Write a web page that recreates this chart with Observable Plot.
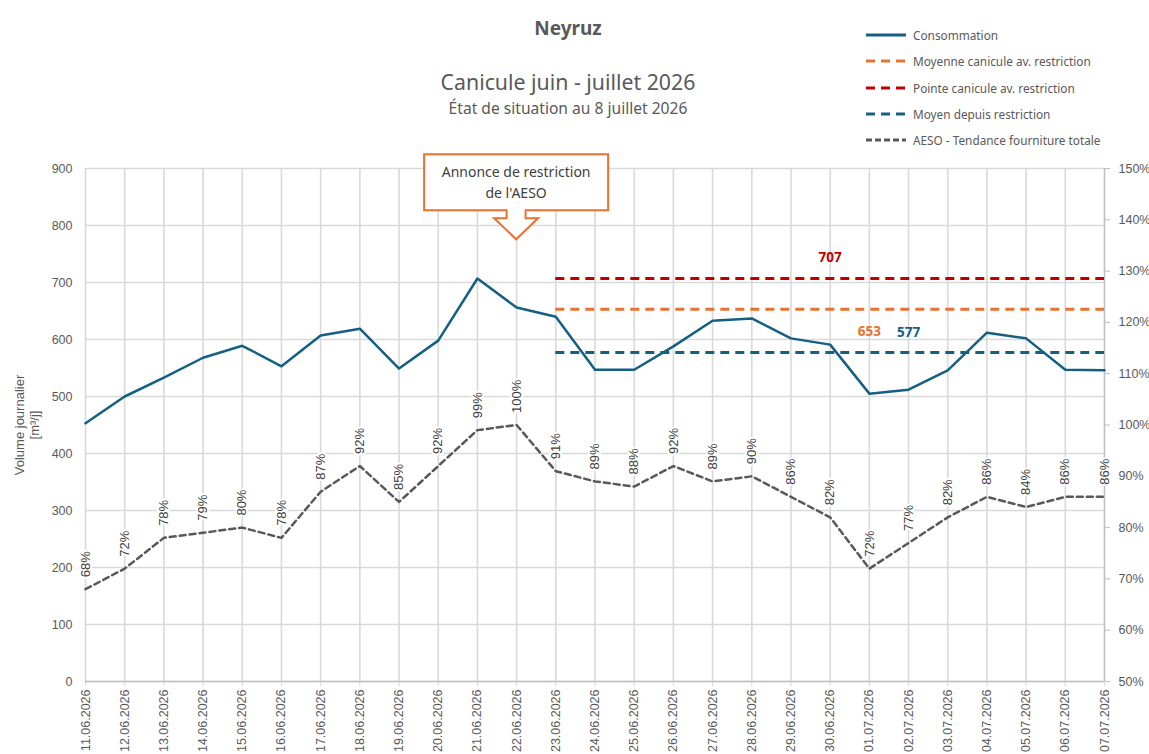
<!DOCTYPE html>
<html><head><meta charset="utf-8">
<script src="https://cdn.jsdelivr.net/npm/d3@7"></script>
<script src="https://cdn.jsdelivr.net/npm/@observablehq/plot@0.6"></script>
<style>
body{margin:0;background:#fff;font-family:"Noto Sans",sans-serif;}
#wrap{position:relative;width:1149px;height:754px;overflow:hidden;}
#wrap svg{position:absolute;left:0;top:0;}
.t{position:absolute;left:0;width:1136px;text-align:center;color:#595959;line-height:1;}
#legend{position:absolute;left:866px;top:22px;font-size:11.8px;color:#595959;}
#legend .row{height:26.3px;display:flex;align-items:center;}
#legend svg{position:static;margin-right:7px;}
</style></head><body>
<div id="wrap">
  <div class="t" style="top:19px;font-size:19px;font-weight:700;">Neyruz</div>
  <div class="t" style="top:71px;font-size:21.3px;">Canicule juin - juillet 2026</div>
  <div class="t" style="top:101px;font-size:15.6px;">État de situation au 8 juillet 2026</div>
  <div id="legend"></div>
</div>
<script>
const dates = ["11.06.2026","12.06.2026","13.06.2026","14.06.2026","15.06.2026","16.06.2026","17.06.2026","18.06.2026","19.06.2026","20.06.2026","21.06.2026","22.06.2026","23.06.2026","24.06.2026","25.06.2026","26.06.2026","27.06.2026","28.06.2026","29.06.2026","30.06.2026","01.07.2026","02.07.2026","03.07.2026","04.07.2026","05.07.2026","06.07.2026","07.07.2026"];
const consommation = [453,500,533,568,589,553,607,619,549,598,707,656,640,547,547,588,633,637,602,591,505,512,546,612,602,547,546];
const tendance = [68,72,78,79,80,78,87,92,85,92,99,100,91,89,88,92,89,90,86,82,72,77,82,86,84,86,86];
const refNames = ["Moyenne canicule av. restriction","Pointe canicule av. restriction","Moyen depuis restriction"];
const refValues = [653,707,577];
const refStart = "23.06.2026";
const leftTicks = [0,100,200,300,400,500,600,700,800,900];
const rightTicks = [50,60,70,80,90,100,110,120,130,140,150];
const seriesNames = ["Consommation","Moyenne canicule av. restriction","Pointe canicule av. restriction","Moyen depuis restriction","AESO - Tendance fourniture totale"];
const annotationDate = "22.06.2026";
const annotationValue = 775;
const annotationText = ["Annonce de restriction","de l'AESO"];

const BLUE="#156082", ORANGE="#E97132", RED="#C00000", GRAY="#595959";
const refColors=[ORANGE,RED,BLUE];
const pct2vol = p => (p-50)*9;

const rows = dates.map((d,i)=>({date:d, v:consommation[i], p:tendance[i]}));
const refs = refValues.map((v,i)=>({name:refNames[i], v, color:refColors[i]}));
const lastDate = dates[dates.length-1];

function callout(...args){
  const sc = args.find(a => a && typeof a.x === "function" && typeof a.y === "function");
  const tx = sc.x(annotationDate), ty = sc.y(annotationValue);
  const g = d3.create("svg:g");
  const bx0=tx-92, bx1=tx+92, by0=ty-85, by1=ty-29;
  g.append("path")
   .attr("d",`M${bx0},${by0}H${bx1}V${by1}H${tx+9.5}V${ty-21}H${tx+22}L${tx},${ty}L${tx-22},${ty-21}H${tx-9.5}V${by1}H${bx0}Z`)
   .attr("fill","white").attr("stroke",ORANGE).attr("stroke-width",2);
  annotationText.forEach((t,i)=>{
    g.append("text").attr("x",tx).attr("y",ty-62+i*21).attr("text-anchor","middle")
     .attr("font-family","Noto Sans").attr("font-size",14).attr("fill","#404040").text(t);
  });
  return g.node();
}

const chart = Plot.plot({
  width:1149, height:754,
  marginLeft:85, marginRight:45, marginTop:168, marginBottom:73,
  style:{fontFamily:"Liberation Sans, Arial, sans-serif", fontSize:"12.5px", color:GRAY, background:"transparent"},
  x:{type:"point", domain:dates, padding:0, round:false, axis:null},
  y:{domain:[0,900], axis:null},
  marks:[
    Plot.ruleY(leftTicks, {stroke:"#d9d9d9", strokeWidth:1.3}),
    Plot.ruleX(dates, {y1:0, y2:900, stroke:"#d9d9d9", strokeWidth:1.6}),
    Plot.axisX(dates, {anchor:"bottom", tickRotate:-90, tickSize:5, tickPadding:3, stroke:"#d9d9d9", label:null, fontSize:12.5}),
    Plot.axisY(leftTicks, {anchor:"left", tickSize:0, tickPadding:13, label:null, fontSize:12.5}),
    Plot.axisY(rightTicks.map(pct2vol), {anchor:"right", tickSize:5, tickPadding:9, stroke:"#bfbfbf", label:null, fontSize:12.5, tickFormat:(d,i)=>rightTicks[i]+"%"}),
    Plot.ruleY([0], {stroke:"#bfbfbf", strokeWidth:1.3}),
    Plot.ruleX([lastDate], {y1:0, y2:900, stroke:"#bfbfbf", strokeWidth:1.3}),
    Plot.line(rows, {x:"date", y:"v", stroke:BLUE, strokeWidth:2.5}),
    Plot.ruleY(refs, {y:"v", x1:()=>refStart, x2:()=>lastDate, stroke:"color", strokeWidth:3, strokeDasharray:"9,6"}),
    Plot.line(rows, {x:"date", y:d=>pct2vol(d.p), stroke:GRAY, strokeWidth:2.5, strokeDasharray:"6,4"}),
    Plot.text(rows, {x:"date", y:d=>pct2vol(d.p), text:d=>d.p+"%", rotate:-90, textAnchor:"start", lineAnchor:"middle", dy:-12, fill:"#404040", stroke:"white", strokeWidth:4, fontSize:13}),
    Plot.text([refs[1]], {x:()=>"30.06.2026", y:"v", text:d=>String(d.v), dy:-21, fill:RED, fontWeight:"bold", fontSize:13.5, fontFamily:"Noto Sans"}),
    Plot.text([refs[0]], {x:()=>"01.07.2026", y:"v", text:d=>String(d.v), dy:22, fill:ORANGE, fontWeight:"bold", fontSize:13.5, fontFamily:"Noto Sans"}),
    Plot.text([refs[2]], {x:()=>"02.07.2026", y:"v", text:d=>String(d.v), dy:-20, fill:BLUE, fontWeight:"bold", fontSize:13.5, fontFamily:"Noto Sans"}),
    Plot.text(["Volume journalier\n[m³/j]"], {frameAnchor:"left", rotate:-90, dx:-59, textAnchor:"middle", lineAnchor:"middle", fontSize:13, fill:GRAY, lineHeight:1.2}),
    callout
  ]
});
document.getElementById("wrap").prepend(chart);

// legend
const legendStyles = [
  {color:BLUE, dash:null},
  {color:ORANGE, dash:"9,6"},
  {color:RED, dash:"9,6"},
  {color:BLUE, dash:"9,6"},
  {color:GRAY, dash:"6,3"}
];
const leg = d3.select("#legend");
seriesNames.forEach((n,i)=>{
  const r = leg.append("div").attr("class","row");
  const s = r.append("svg").attr("width",40).attr("height",6);
  s.append("line").attr("x1",0).attr("x2",40).attr("y1",3).attr("y2",3)
   .attr("stroke",legendStyles[i].color).attr("stroke-width",3)
   .attr("stroke-dasharray",legendStyles[i].dash);
  r.append("span").text(n);
});
</script>
</body></html>
